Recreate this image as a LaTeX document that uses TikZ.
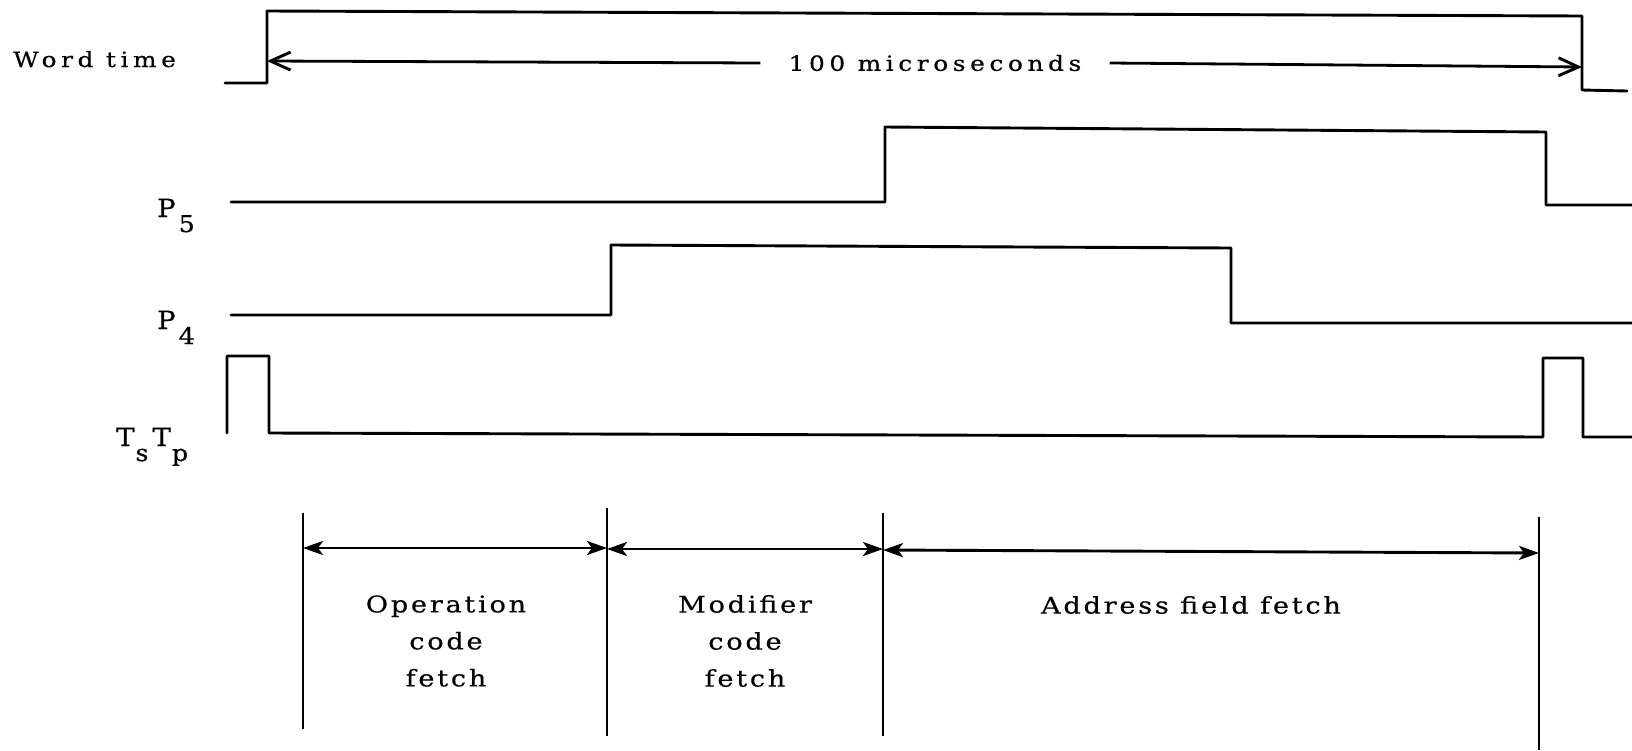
\documentclass[tikz,border=0pt]{standalone}
\usepackage{fontspec}
\newfontfamily\toplblfont{DejaVu Serif}[LetterSpace=22,FakeStretch=1.18,FakeBold=0.5]
\newfontfamily\botlblfont{DejaVu Serif}[LetterSpace=12,FakeStretch=1.18,FakeBold=0.5]
\newfontfamily\symfont{DejaVu Serif}[FakeStretch=1.1,FakeBold=0.5]
\usetikzlibrary{arrows.meta}
\begin{document}
\begin{tikzpicture}[x=1pt,y=-1pt,
  wave/.style={line width=2.9pt, line join=round, line cap=round},
  vline/.style={line width=1.9pt},
  tarrow/.style={line width=2.8pt, -{Straight Barb[length=20pt,width=18pt,line width=2.9pt]}},
  barrow/.style={line width=2.9pt, {Stealth[length=20pt,width=14pt,inset=5pt]}-{Stealth[length=20pt,width=14pt,inset=5pt]}},
  toplbl/.style={font=\toplblfont\fontsize{21}{30}\selectfont, inner sep=0pt},
  lbl/.style={font=\botlblfont\fontsize{23}{37}\selectfont, inner sep=0pt, align=center},
  plbl/.style={font=\symfont\fontsize{25}{30}\selectfont, inner sep=0pt, anchor=base west}]
\newcommand\lowsub[1]{\raisebox{-15pt}{\fontsize{23}{27}\selectfont #1}}
\useasboundingbox (0,0) rectangle (1632,750);
% Word time
\node[toplbl, anchor=base west] (wt) at (13,67) {Word time};
\draw[wave] (225,83) -- (267,83) -- (267,11) -- (1582,16) -- (1582,90) -- (1627,91);
\coordinate (wtL) at (267,61);
\coordinate (wtR) at (1582,67);
\node[toplbl, inner xsep=28pt] (us) at (935,63) {100 microseconds};
\draw[tarrow] (us.west) -- (wtL);
\draw[tarrow] (us.east) -- (wtR);
% P5
\node[plbl] (p5) at (157,217) {P\kern3pt\lowsub{5}};
\draw[wave] (231,202) -- (885,202) -- (885,127) -- (1546,132) -- (1546,205) -- (1632,205);
% P4
\node[plbl] (p4) at (157,329) {P\kern3pt\lowsub{4}};
\draw[wave] (231,315) -- (611,315) -- (611,245) -- (1231,248) -- (1231,323) -- (1632,323);
% Ts Tp
\node[plbl] (tstp) at (116,446) {T\kern1pt\lowsub{s}\kern4pt T\kern1pt\lowsub{p}};
\draw[wave] (227,433) -- (227,356) -- (269,356) -- (269,433) -- (1543,437) -- (1543,358) -- (1583,358) -- (1583,437) -- (1632,437);
% bottom division lines
\coordinate (v1t) at (303,513); \coordinate (v1b) at (303,729);
\coordinate (v2t) at (607,508); \coordinate (v2b) at (607,736);
\coordinate (v3t) at (883,513); \coordinate (v3b) at (883,736);
\coordinate (v4t) at (1539,517); \coordinate (v4b) at (1539,750);
\draw[vline] (v1t) -- (v1b);
\draw[vline] (v2t) -- (v2b);
\draw[vline] (v3t) -- (v3b);
\draw[vline] (v4t) -- (v4b);
\coordinate (a1) at (303,548); \coordinate (a2) at (607,548);
\coordinate (b1) at (607,549); \coordinate (b2) at (883,549);
\coordinate (c1) at (883,550); \coordinate (c2) at (1539,553);
\draw[barrow] (a1) -- (a2);
\draw[barrow] (b1) -- (b2);
\draw[barrow] (c1) -- (c2);
\node[lbl] (op) at (446,641) {Operation\\code\\fetch};
\node[lbl] (mod) at (745,641) {Modifier\\code\\fetch};
\node[lbl] (addr) at (1191,605) {Address field fetch};
\end{tikzpicture}
\end{document}
